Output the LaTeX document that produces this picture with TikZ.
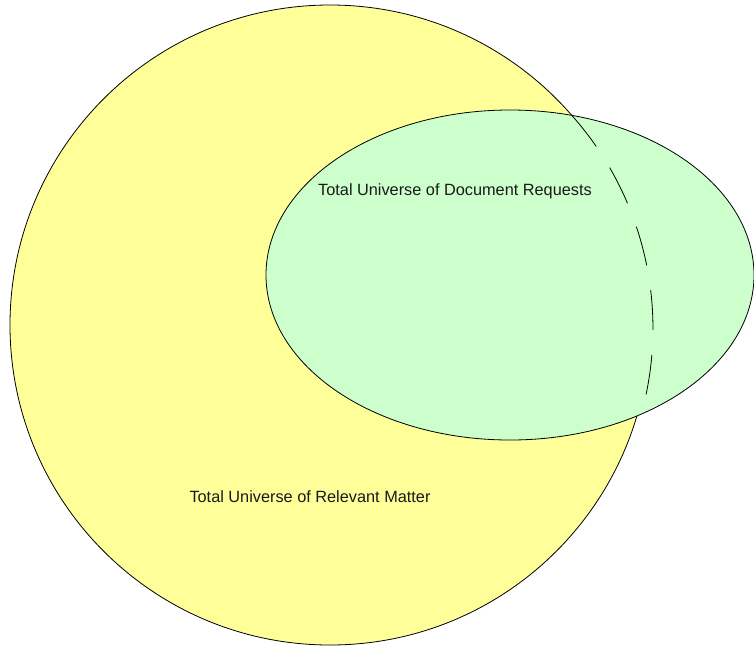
\documentclass[tikz,border=0pt]{standalone}
\usepackage{fontspec}
\setmainfont{Liberation Sans}
\usetikzlibrary{shapes.geometric}
\definecolor{setyellow}{HTML}{FFFF99}
\definecolor{setgreen}{HTML}{CCFFCC}
\definecolor{labelgray}{HTML}{1A1A1A}
\tikzset{
  setline/.style={draw=black, line width=0.8pt},
  bigset/.style={setline, circle, fill=setyellow, minimum size=640pt, inner sep=0pt, outer sep=0pt},
  reqset/.style={setline, ellipse, fill=setgreen, minimum width=488pt, minimum height=330pt, inner sep=0pt, outer sep=0pt},
  hiddenedge/.style={draw=black, line width=0.8pt, dash pattern=on 40pt off 25pt},
  setlabel/.style={text=labelgray, font=\fontsize{16.3}{19}\selectfont, inner sep=0pt}
}
\begin{document}
\begin{tikzpicture}[x=1pt, y=-1pt]
\useasboundingbox (0,0) rectangle (754,646);
\node[bigset] (relevant) at (330,325) {};
\node[reqset] (requests) at (510,275) {};
\draw[hiddenedge] (relevant.41.8) arc[start angle=41.8, end angle=-16, radius=320pt];
\node[setlabel] (reqlabel) at (455,191) {Total Universe of Document Requests};
\node[setlabel] (rellabel) at (310,497) {Total Universe of Relevant Matter};
\end{tikzpicture}
\end{document}
